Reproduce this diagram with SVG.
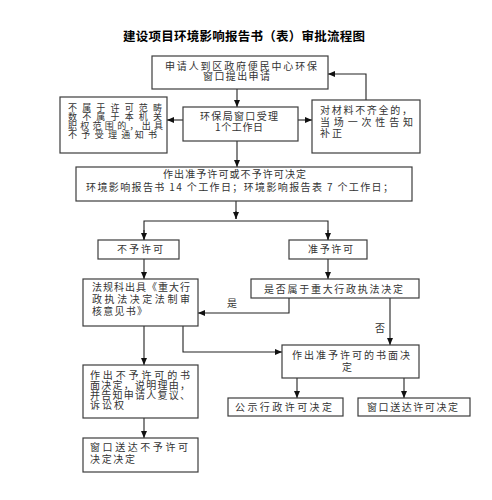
<svg xmlns="http://www.w3.org/2000/svg" width="492" height="500" viewBox="0 0 492 500">
<style>
.box{fill:#fff;stroke:#3c3c3c;stroke-width:1.2}
.t{font-family:"Noto Sans CJK SC","Liberation Sans",sans-serif;font-size:10px;fill:#333}
.s{font-size:9px}
.title{font-family:"Noto Sans CJK SC","Liberation Sans",sans-serif;font-size:12.5px;font-weight:bold;fill:#000}
.ln{fill:none;stroke:#222;stroke-width:1.1}
</style>
<defs>
<marker id="ah" markerWidth="7" markerHeight="6" refX="7" refY="3" orient="auto" markerUnits="userSpaceOnUse">
<path d="M0,0 L7,3 L0,6 Z" fill="#111"/>
</marker>
</defs>
<rect width="492" height="500" fill="#fff"/>
<text class="title" x="123" y="41" textLength="242" lengthAdjust="spacing">建设项目环境影响报告书（表）审批流程图</text>

<g id="connectors">
<path class="ln" d="M237,89 V107" marker-end="url(#ah)"/>
<path class="ln" d="M183,120 H167" marker-end="url(#ah)"/>
<path class="ln" d="M298,120 H312" marker-end="url(#ah)"/>
<path class="ln" d="M366,100 V74 H328" marker-end="url(#ah)"/>
<path class="ln" d="M237,141 V167" marker-end="url(#ah)"/>
<path class="ln" d="M236,201 V219"/>
<path class="ln" d="M236,211 V219" marker-end="url(#ah)"/>
<path class="ln" d="M144,240 V221 H328 V240"/>
<path class="ln" d="M144,230 V240" marker-end="url(#ah)"/>
<path class="ln" d="M328,230 V240" marker-end="url(#ah)"/>
<path class="ln" d="M144,259 V279" marker-end="url(#ah)"/>
<path class="ln" d="M328,259 V279" marker-end="url(#ah)"/>
<path class="ln" d="M289,298 V313 H198" marker-end="url(#ah)"/>
<path class="ln" d="M390,298 V345" marker-end="url(#ah)"/>
<path class="ln" d="M183,326 V352 H282" marker-end="url(#ah)"/>
<path class="ln" d="M144,326 V365" marker-end="url(#ah)"/>
<path class="ln" d="M297,378 V398" marker-end="url(#ah)"/>
<path class="ln" d="M404,378 V398" marker-end="url(#ah)"/>
<path class="ln" d="M144,418 V438" marker-end="url(#ah)"/>
<text class="t" x="227" y="307">是</text>
<text class="t" x="375" y="332">否</text>
</g>

<g id="n1">
<rect class="box" x="152" y="56" width="176" height="33"/>
<text class="t"><tspan x="165" y="70" textLength="152" lengthAdjust="spacing">申请人到区政府便民中心环保</tspan><tspan x="203" y="80" textLength="67" lengthAdjust="spacing">窗口提出申请</tspan></text>
</g>

<g id="n2">
<rect class="box" x="183" y="107" width="115" height="34"/>
<text class="t"><tspan x="200" y="120" textLength="78" lengthAdjust="spacing">环保局窗口受理</tspan><tspan x="215" y="131" textLength="48" lengthAdjust="spacing">1个工作日</tspan></text>
</g>

<g id="n3">
<rect class="box" x="60" y="97" width="107" height="56"/>
<text class="t s"><tspan x="68" y="110.5" textLength="94" lengthAdjust="spacing">不属于许可范畴</tspan><tspan x="68" y="119.5" textLength="94" lengthAdjust="spacing">数不属于本机关</tspan><tspan x="68" y="128.5" textLength="95" lengthAdjust="spacing">职权范围的，出具</tspan><tspan x="68" y="137.5" textLength="89" lengthAdjust="spacing">不予受理通知书</tspan></text>
</g>

<g id="n4">
<rect class="box" x="312" y="100" width="108" height="53"/>
<text class="t"><tspan x="320" y="114" textLength="92" lengthAdjust="spacing">对材料不齐全的，</tspan><tspan x="320" y="126" textLength="93" lengthAdjust="spacing">当场一次性告知</tspan><tspan x="320" y="137" textLength="22" lengthAdjust="spacing">补正</tspan></text>
</g>

<g id="n5">
<rect class="box" x="76" y="167" width="336" height="34"/>
<text class="t"><tspan x="163" y="178" textLength="143" lengthAdjust="spacing">作出准予许可或不予许可决定</tspan><tspan x="86" y="191" textLength="307" lengthAdjust="spacing">环境影响报告书 14 个工作日；环境影响报告表 7 个工作日；</tspan></text>
</g>

<g id="n6">
<rect class="box" x="98" y="240" width="81" height="19"/>
<text class="t" x="117" y="253" textLength="46" lengthAdjust="spacing">不予许可</text>
</g>

<g id="n7">
<rect class="box" x="289" y="240" width="78" height="19"/>
<text class="t" x="308" y="253" textLength="45" lengthAdjust="spacing">准予许可</text>
</g>

<g id="n8">
<rect class="box" x="83" y="279" width="115" height="47"/>
<text class="t"><tspan x="92" y="291" textLength="98" lengthAdjust="spacing">法规科出具《重大行</tspan><tspan x="92" y="303" textLength="98" lengthAdjust="spacing">政执法决定法制审</tspan><tspan x="92" y="315" textLength="55" lengthAdjust="spacing">核意见书》</tspan></text>
</g>

<g id="n9">
<rect class="box" x="251" y="279" width="168" height="19"/>
<text class="t" x="264" y="293" textLength="139" lengthAdjust="spacing">是否属于重大行政执法决定</text>
</g>

<g id="n10">
<rect class="box" x="282" y="345" width="137" height="33"/>
<text class="t"><tspan x="292" y="359" textLength="118" lengthAdjust="spacing">作出准予许可的书面决</tspan><tspan x="342" y="371">定</tspan></text>
</g>

<g id="n11">
<rect class="box" x="83" y="365" width="115" height="53"/>
<text class="t"><tspan x="90" y="379" textLength="100" lengthAdjust="spacing">作出不予许可的书</tspan><tspan x="90" y="389" textLength="100" lengthAdjust="spacing">面决定，说明理由，</tspan><tspan x="90" y="399" textLength="100" lengthAdjust="spacing">并告知申请人复议、</tspan><tspan x="90" y="409" textLength="34" lengthAdjust="spacing">诉讼权</tspan></text>
</g>

<g id="n12">
<rect class="box" x="228" y="398" width="115" height="18"/>
<text class="t" x="235" y="411" textLength="97" lengthAdjust="spacing">公示行政许可决定</text>
</g>

<g id="n13">
<rect class="box" x="358" y="398" width="112" height="18"/>
<text class="t" x="367" y="411" textLength="91" lengthAdjust="spacing">窗口送达许可决定</text>
</g>

<g id="n14">
<rect class="box" x="83" y="438" width="115" height="34"/>
<text class="t"><tspan x="90" y="451" textLength="98" lengthAdjust="spacing">窗口送达不予许可</tspan><tspan x="90" y="463" textLength="45" lengthAdjust="spacing">决定决定</tspan></text>
</g>
</svg>
